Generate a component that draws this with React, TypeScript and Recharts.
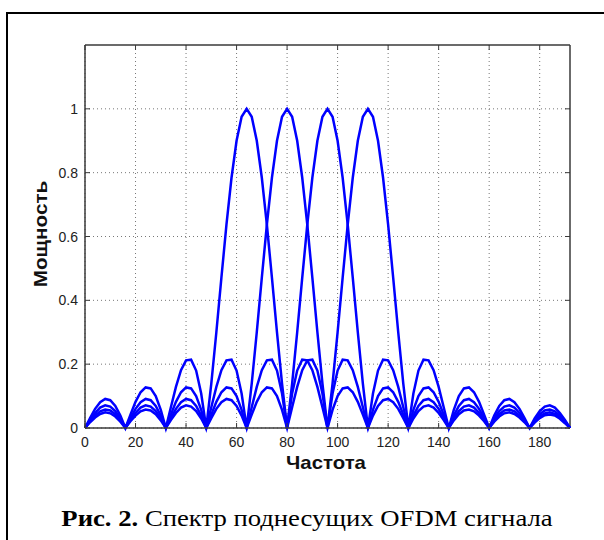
import React from "react";
import { LineChart, Line, XAxis, YAxis, CartesianGrid, ReferenceLine } from "recharts";

// Frequency samples (x axis)
const FREQ = [
  0, 2, 4, 6, 8, 10, 12, 14, 16,
  18, 20, 22, 24, 26, 28, 30, 32,
  34, 36, 38, 40, 42, 44, 46, 48,
  50, 52, 54, 56, 58, 60, 62, 64,
  66, 68, 70, 72, 74, 76, 78, 80,
  82, 84, 86, 88, 90, 92, 94, 96,
  98, 100, 102, 104, 106, 108, 110, 112,
  114, 116, 118, 120, 122, 124, 126, 128,
  130, 132, 134, 136, 138, 140, 142, 144,
  146, 148, 150, 152, 154, 156, 158, 160,
  162, 164, 166, 168, 170, 172, 174, 176,
  178, 180, 182, 184, 186, 188, 190, 192,
];

// Subcarrier centred at 64
const SC64 = [
  0, 0.031, 0.060, 0.081, 0.091, 0.087, 0.069, 0.039, 0,
  0.042, 0.082, 0.112, 0.127, 0.124, 0.100, 0.057, 0,
  0.065, 0.129, 0.181, 0.212, 0.214, 0.180, 0.108, 0,
  0.139, 0.300, 0.471, 0.637, 0.784, 0.900, 0.975, 1.000,
  0.975, 0.900, 0.784, 0.637, 0.471, 0.300, 0.139, 0,
  0.108, 0.180, 0.214, 0.212, 0.181, 0.129, 0.065, 0,
  0.057, 0.100, 0.124, 0.127, 0.112, 0.082, 0.042, 0,
  0.039, 0.069, 0.087, 0.091, 0.081, 0.060, 0.031, 0,
  0.030, 0.053, 0.067, 0.071, 0.064, 0.047, 0.025, 0,
  0.024, 0.043, 0.055, 0.058, 0.052, 0.039, 0.021, 0,
  0.020, 0.036, 0.046, 0.049, 0.044, 0.033, 0.018, 0,
  0.017, 0.031, 0.040, 0.042, 0.039, 0.029, 0.015, 0,
];

// Subcarrier centred at 80
const SC80 = [
  0, 0.025, 0.047, 0.064, 0.071, 0.067, 0.053, 0.030, 0,
  0.031, 0.060, 0.081, 0.091, 0.087, 0.069, 0.039, 0,
  0.042, 0.082, 0.112, 0.127, 0.124, 0.100, 0.057, 0,
  0.065, 0.129, 0.181, 0.212, 0.214, 0.180, 0.108, 0,
  0.139, 0.300, 0.471, 0.637, 0.784, 0.900, 0.975, 1.000,
  0.975, 0.900, 0.784, 0.637, 0.471, 0.300, 0.139, 0,
  0.108, 0.180, 0.214, 0.212, 0.181, 0.129, 0.065, 0,
  0.057, 0.100, 0.124, 0.127, 0.112, 0.082, 0.042, 0,
  0.039, 0.069, 0.087, 0.091, 0.081, 0.060, 0.031, 0,
  0.030, 0.053, 0.067, 0.071, 0.064, 0.047, 0.025, 0,
  0.024, 0.043, 0.055, 0.058, 0.052, 0.039, 0.021, 0,
  0.020, 0.036, 0.046, 0.049, 0.044, 0.033, 0.018, 0,
];

// Subcarrier centred at 96
const SC96 = [
  0, 0.021, 0.039, 0.052, 0.058, 0.055, 0.043, 0.024, 0,
  0.025, 0.047, 0.064, 0.071, 0.067, 0.053, 0.030, 0,
  0.031, 0.060, 0.081, 0.091, 0.087, 0.069, 0.039, 0,
  0.042, 0.082, 0.112, 0.127, 0.124, 0.100, 0.057, 0,
  0.065, 0.129, 0.181, 0.212, 0.214, 0.180, 0.108, 0,
  0.139, 0.300, 0.471, 0.637, 0.784, 0.900, 0.975, 1.000,
  0.975, 0.900, 0.784, 0.637, 0.471, 0.300, 0.139, 0,
  0.108, 0.180, 0.214, 0.212, 0.181, 0.129, 0.065, 0,
  0.057, 0.100, 0.124, 0.127, 0.112, 0.082, 0.042, 0,
  0.039, 0.069, 0.087, 0.091, 0.081, 0.060, 0.031, 0,
  0.030, 0.053, 0.067, 0.071, 0.064, 0.047, 0.025, 0,
  0.024, 0.043, 0.055, 0.058, 0.052, 0.039, 0.021, 0,
];

// Subcarrier centred at 112
const SC112 = [
  0, 0.018, 0.033, 0.044, 0.049, 0.046, 0.036, 0.020, 0,
  0.021, 0.039, 0.052, 0.058, 0.055, 0.043, 0.024, 0,
  0.025, 0.047, 0.064, 0.071, 0.067, 0.053, 0.030, 0,
  0.031, 0.060, 0.081, 0.091, 0.087, 0.069, 0.039, 0,
  0.042, 0.082, 0.112, 0.127, 0.124, 0.100, 0.057, 0,
  0.065, 0.129, 0.181, 0.212, 0.214, 0.180, 0.108, 0,
  0.139, 0.300, 0.471, 0.637, 0.784, 0.900, 0.975, 1.000,
  0.975, 0.900, 0.784, 0.637, 0.471, 0.300, 0.139, 0,
  0.108, 0.180, 0.214, 0.212, 0.181, 0.129, 0.065, 0,
  0.057, 0.100, 0.124, 0.127, 0.112, 0.082, 0.042, 0,
  0.039, 0.069, 0.087, 0.091, 0.081, 0.060, 0.031, 0,
  0.030, 0.053, 0.067, 0.071, 0.064, 0.047, 0.025, 0,
];

const X_TICKS = [0, 20, 40, 60, 80, 100, 120, 140, 160, 180];
const Y_TICKS = [0, 0.2, 0.4, 0.6, 0.8, 1];
const X_MAX = 192;
const Y_MAX = 1.2;

const X_LABEL = "Частота";
const Y_LABEL = "Мощность";
const CAPTION_BOLD = "Рис. 2.";
const CAPTION_TEXT = " Спектр поднесущих OFDM сигнала";

const SERIES = [
  { key: "s64", values: SC64 },
  { key: "s80", values: SC80 },
  { key: "s96", values: SC96 },
  { key: "s112", values: SC112 },
];

const data = FREQ.map((f, i) => {
  const row: Record<string, number> = { f };
  SERIES.forEach((s) => {
    row[s.key] = s.values[i];
  });
  return row;
});

// layout
const W = 604;
const H = 540;
const PLOT_LEFT = 85;
const PLOT_TOP = 45;
const PLOT_RIGHT = 570;
const PLOT_BOTTOM = 428;
const X_AXIS_H = 40;
const TICK_LEN = 5;
const AXIS_COLOR = "#3a3a3a";
const TICK_FONT = "'Liberation Sans', Arial, sans-serif";

const XTick = (props: any) => {
  const { x, y, payload } = props;
  return (
    <g>
      <line x1={x} x2={x} y1={y} y2={y - TICK_LEN} stroke={AXIS_COLOR} strokeWidth={1} />
      <line x1={x} x2={x} y1={PLOT_TOP} y2={PLOT_TOP + TICK_LEN} stroke={AXIS_COLOR} strokeWidth={1} />
      <text x={x} y={y + 18.5} textAnchor="middle" fontSize={14} fontFamily={TICK_FONT} fill="#222">
        {String(payload.value)}
      </text>
    </g>
  );
};

const YTick = (props: any) => {
  const { x, y, payload } = props;
  return (
    <g>
      <line x1={x} x2={x + TICK_LEN} y1={y} y2={y} stroke={AXIS_COLOR} strokeWidth={1} />
      <line x1={PLOT_RIGHT} x2={PLOT_RIGHT - TICK_LEN} y1={y} y2={y} stroke={AXIS_COLOR} strokeWidth={1} />
      <text x={x - 7} y={y + 5} textAnchor="end" fontSize={14} fontFamily={TICK_FONT} fill="#222">
        {String(payload.value)}
      </text>
    </g>
  );
};

export default function App() {
  return (
    <div
      style={{
        position: "absolute",
        left: 0,
        top: 0,
        width: W,
        height: H,
        background: "#fff",
        overflow: "hidden",
      }}
    >
      <div
        style={{
          position: "absolute",
          left: 6,
          top: 12,
          width: 800,
          height: 800,
          borderLeft: "2px solid #000",
          borderTop: "2px solid #000",
        }}
      />
      <div style={{ position: "absolute", left: 0, top: 0 }}>
        <LineChart
          width={W}
          height={H}
          data={data}
          margin={{ top: PLOT_TOP, right: W - PLOT_RIGHT, bottom: H - PLOT_BOTTOM - X_AXIS_H, left: 0 }}
        >
          <CartesianGrid
            stroke="#777"
            strokeDasharray="1 3"
            strokeWidth={1}
            horizontalValues={Y_TICKS}
            verticalValues={X_TICKS}
          />
          <XAxis
            dataKey="f"
            type="number"
            domain={[0, X_MAX]}
            ticks={X_TICKS}
            height={X_AXIS_H}
            tickSize={0}
            tickMargin={0}
            tickLine={false}
            axisLine={{ stroke: AXIS_COLOR, strokeWidth: 1.5 }}
            tick={XTick}
            interval={0}
          />
          <YAxis
            type="number"
            domain={[0, Y_MAX]}
            ticks={Y_TICKS}
            width={PLOT_LEFT}
            tickSize={0}
            tickMargin={0}
            tickLine={false}
            axisLine={{ stroke: AXIS_COLOR, strokeWidth: 1.5 }}
            tick={YTick}
            interval={0}
          />
          <ReferenceLine y={Y_MAX} stroke={AXIS_COLOR} strokeWidth={1.5} />
          <ReferenceLine x={X_MAX} stroke={AXIS_COLOR} strokeWidth={1.5} />
          {SERIES.map((s) => (
            <Line
              key={s.key}
              dataKey={s.key}
              type="linear"
              stroke="#0000ff"
              strokeWidth={2.5}
              dot={false}
              activeDot={false}
              isAnimationActive={false}
            />
          ))}
        </LineChart>
      </div>
      <div
        style={{
          position: "absolute",
          left: 226,
          width: 200,
          top: 452,
          lineHeight: "21px",
          textAlign: "center",
          fontFamily: TICK_FONT,
          fontWeight: "bold",
          fontSize: 18.5,
          color: "#111",
          transform: "scaleX(1.1)",
        }}
      >
        {X_LABEL}
      </div>
      <div
        style={{
          position: "absolute",
          left: 41 - 100,
          top: 234 - 11,
          width: 200,
          height: 22,
          lineHeight: "22px",
          textAlign: "center",
          transform: "rotate(-90deg) scaleX(1.12)",
          fontFamily: TICK_FONT,
          fontWeight: "bold",
          fontSize: 18.5,
          color: "#111",
        }}
      >
        {Y_LABEL}
      </div>
      <div
        style={{
          position: "absolute",
          left: 0,
          width: 614,
          top: 506,
          lineHeight: "26px",
          textAlign: "center",
          fontFamily: "'Liberation Serif', 'Times New Roman', serif",
          fontSize: 23,
          color: "#000",
          whiteSpace: "nowrap",
          transform: "scaleX(1.16)",
        }}
      >
        <b>{CAPTION_BOLD}</b>
        {CAPTION_TEXT}
      </div>
    </div>
  );
}
